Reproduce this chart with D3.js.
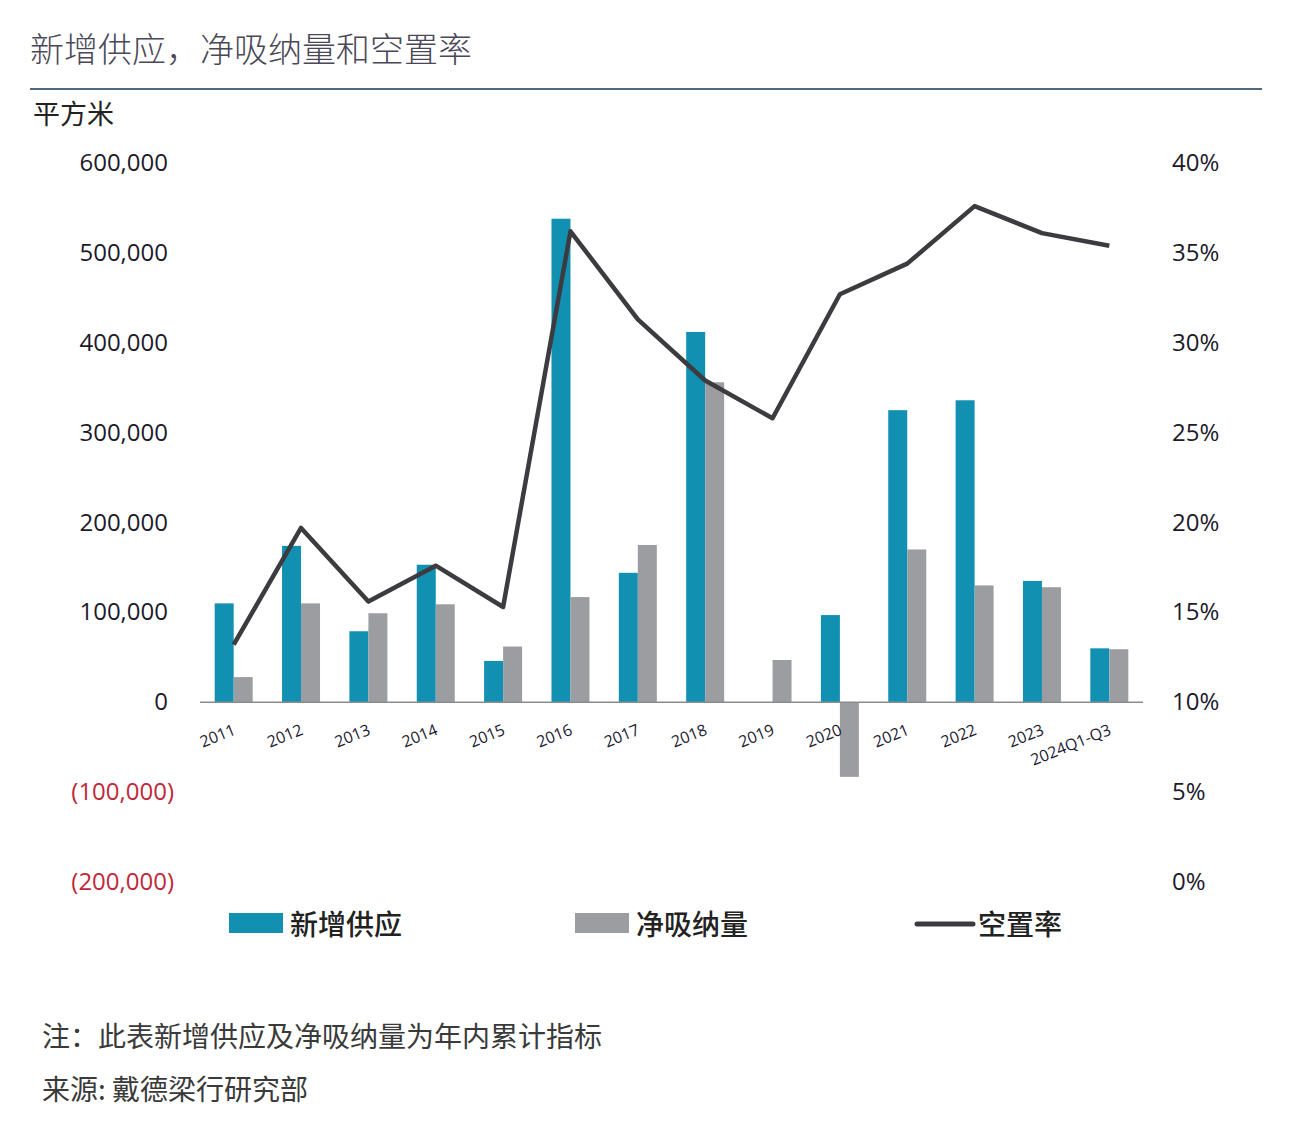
<!DOCTYPE html>
<html>
<head>
<meta charset="utf-8">
<script src="https://cdn.jsdelivr.net/npm/d3@7"></script>
<style>
  body { margin: 0; background: #fff; }
  svg { display: block; }
</style>
</head>
<body>
<div id="chart"></div>
<script>
const categories = ["2011","2012","2013","2014","2015","2016","2017","2018","2019","2020","2021","2022","2023","2024Q1-Q3"];
const supply     = [110000,174000,79000,153000,46000,538000,144000,412000,0,97000,325000,336000,135000,60000];
const absorption = [28000,110000,99000,109000,62000,117000,175000,356000,47000,-83000,170000,130000,128000,59000];
const vacancy    = [0.132,0.197,0.156,0.176,0.153,0.362,0.313,0.279,0.258,0.327,0.344,0.376,0.361,0.354];
const leftTicks  = [600000,500000,400000,300000,200000,100000,0,-100000,-200000];
const rightTicks = [0.40,0.35,0.30,0.25,0.20,0.15,0.10,0.05,0];

const W = 1300, H = 1134;
const cjk = "'Noto Sans CJK SC', 'Noto Sans', sans-serif";
const num = "'Open Sans', 'Noto Sans', sans-serif";

const svg = d3.select("#chart").append("svg")
  .attr("width", W).attr("height", H)
  .style("background", "#fff");

// title + rule
svg.append("text").attr("x", 30).attr("y", 62)
  .text("新增供应，净吸纳量和空置率")
  .style("font-family", cjk).style("font-size", "34px").style("font-weight", 300)
  .style("fill", "#4a4858");
svg.append("line").attr("x1", 30).attr("x2", 1262).attr("y1", 89).attr("y2", 89)
  .attr("stroke", "#4f6a80").attr("stroke-width", 2);
svg.append("text").attr("x", 33).attr("y", 124).text("平方米")
  .style("font-family", cjk).style("font-size", "27px").style("fill", "#222");

const x = d3.scaleBand().domain(categories).range([200, 1143])
  .paddingInner(0.436).paddingOuter(0.218);
const xs = d3.scaleBand().domain(["s", "a"]).range([0, x.bandwidth()]);
const y = d3.scaleLinear().domain([-200000, 600000]).range([882, 163]);
const yr = d3.scaleLinear().domain([0, 0.4]).range([882, 163]);

// left axis labels
const fmt = d3.format(",");
svg.selectAll(".lt").data(leftTicks).enter().append("text")
  .attr("x", d => d < 0 ? 174 : 168)
  .attr("y", d => y(d) + 8)
  .attr("text-anchor", "end")
  .text(d => d < 0 ? `(${fmt(-d)})` : fmt(d))
  .style("font-family", num).style("font-size", "24px")
  .style("fill", d => d < 0 ? "#c0283a" : "#1c1a2a");

// right axis labels
svg.selectAll(".rt").data(rightTicks).enter().append("text")
  .attr("x", 1172).attr("y", d => yr(d) + 8)
  .text(d => Math.round(d * 100) + "%")
  .style("font-family", num).style("font-size", "24px").style("fill", "#1c1a2a");

// bars
svg.selectAll(".sup").data(categories).enter().append("rect")
  .attr("x", (c) => x(c) + xs("s"))
  .attr("width", xs.bandwidth())
  .attr("y", (c, i) => y(Math.max(0, supply[i])))
  .attr("height", (c, i) => Math.abs(y(supply[i]) - y(0)))
  .attr("fill", "#1290b2");

svg.selectAll(".abs").data(categories).enter().append("rect")
  .attr("x", (c) => x(c) + xs("a"))
  .attr("width", xs.bandwidth())
  .attr("y", (c, i) => y(Math.max(0, absorption[i])))
  .attr("height", (c, i) => Math.abs(y(absorption[i]) - y(0)))
  .attr("fill", "#9b9da1");

// zero line
svg.append("line").attr("x1", 200).attr("x2", 1143)
  .attr("y1", y(0)).attr("y2", y(0))
  .attr("stroke", "#8a8c90").attr("stroke-width", 1.5);

// vacancy line
const line = d3.line()
  .x((d, i) => x(categories[i]) + x.bandwidth() / 2)
  .y(d => yr(d));
svg.append("path").datum(vacancy).attr("d", line)
  .attr("fill", "none").attr("stroke", "#3c3b40")
  .attr("stroke-width", 4.5).attr("stroke-linejoin", "round");

// category labels
svg.selectAll(".xl").data(categories).enter().append("text")
  .attr("transform", c => `translate(${x(c) + x.bandwidth() / 2 + 3},${734}) rotate(-22)`)
  .attr("text-anchor", "end")
  .text(c => c)
  .style("font-family", num).style("font-size", "16px").style("fill", "#1c1a30");

// legend
const legend = [
  { label: "新增供应", x: 229, type: "rect", color: "#1290b2" },
  { label: "净吸纳量", x: 575, type: "rect", color: "#9b9da1" },
  { label: "空置率", x: 917, type: "line", color: "#3c3b40" }
];
const lg = svg.selectAll(".lg").data(legend).enter().append("g");
lg.filter(d => d.type === "rect").append("rect")
  .attr("x", d => d.x).attr("y", 913).attr("width", 54).attr("height", 20)
  .attr("fill", d => d.color);
lg.filter(d => d.type === "line").append("line")
  .attr("x1", d => d.x).attr("x2", d => d.x + 56).attr("y1", 924).attr("y2", 924)
  .attr("stroke", d => d.color).attr("stroke-width", 5).attr("stroke-linecap", "round");
lg.append("text")
  .attr("x", d => d.x + 61).attr("y", 935)
  .text(d => d.label)
  .style("font-family", cjk).style("font-size", "28px").style("font-weight", 500)
  .style("fill", "#222");

// notes
svg.append("text").attr("x", 42).attr("y", 1047)
  .text("注：此表新增供应及净吸纳量为年内累计指标")
  .style("font-family", cjk).style("font-size", "28px").style("fill", "#3a3a3a");
svg.append("text").attr("x", 42).attr("y", 1100)
  .text("来源: 戴德梁行研究部")
  .style("font-family", cjk).style("font-size", "28px").style("fill", "#3a3a3a");
</script>
</body>
</html>
